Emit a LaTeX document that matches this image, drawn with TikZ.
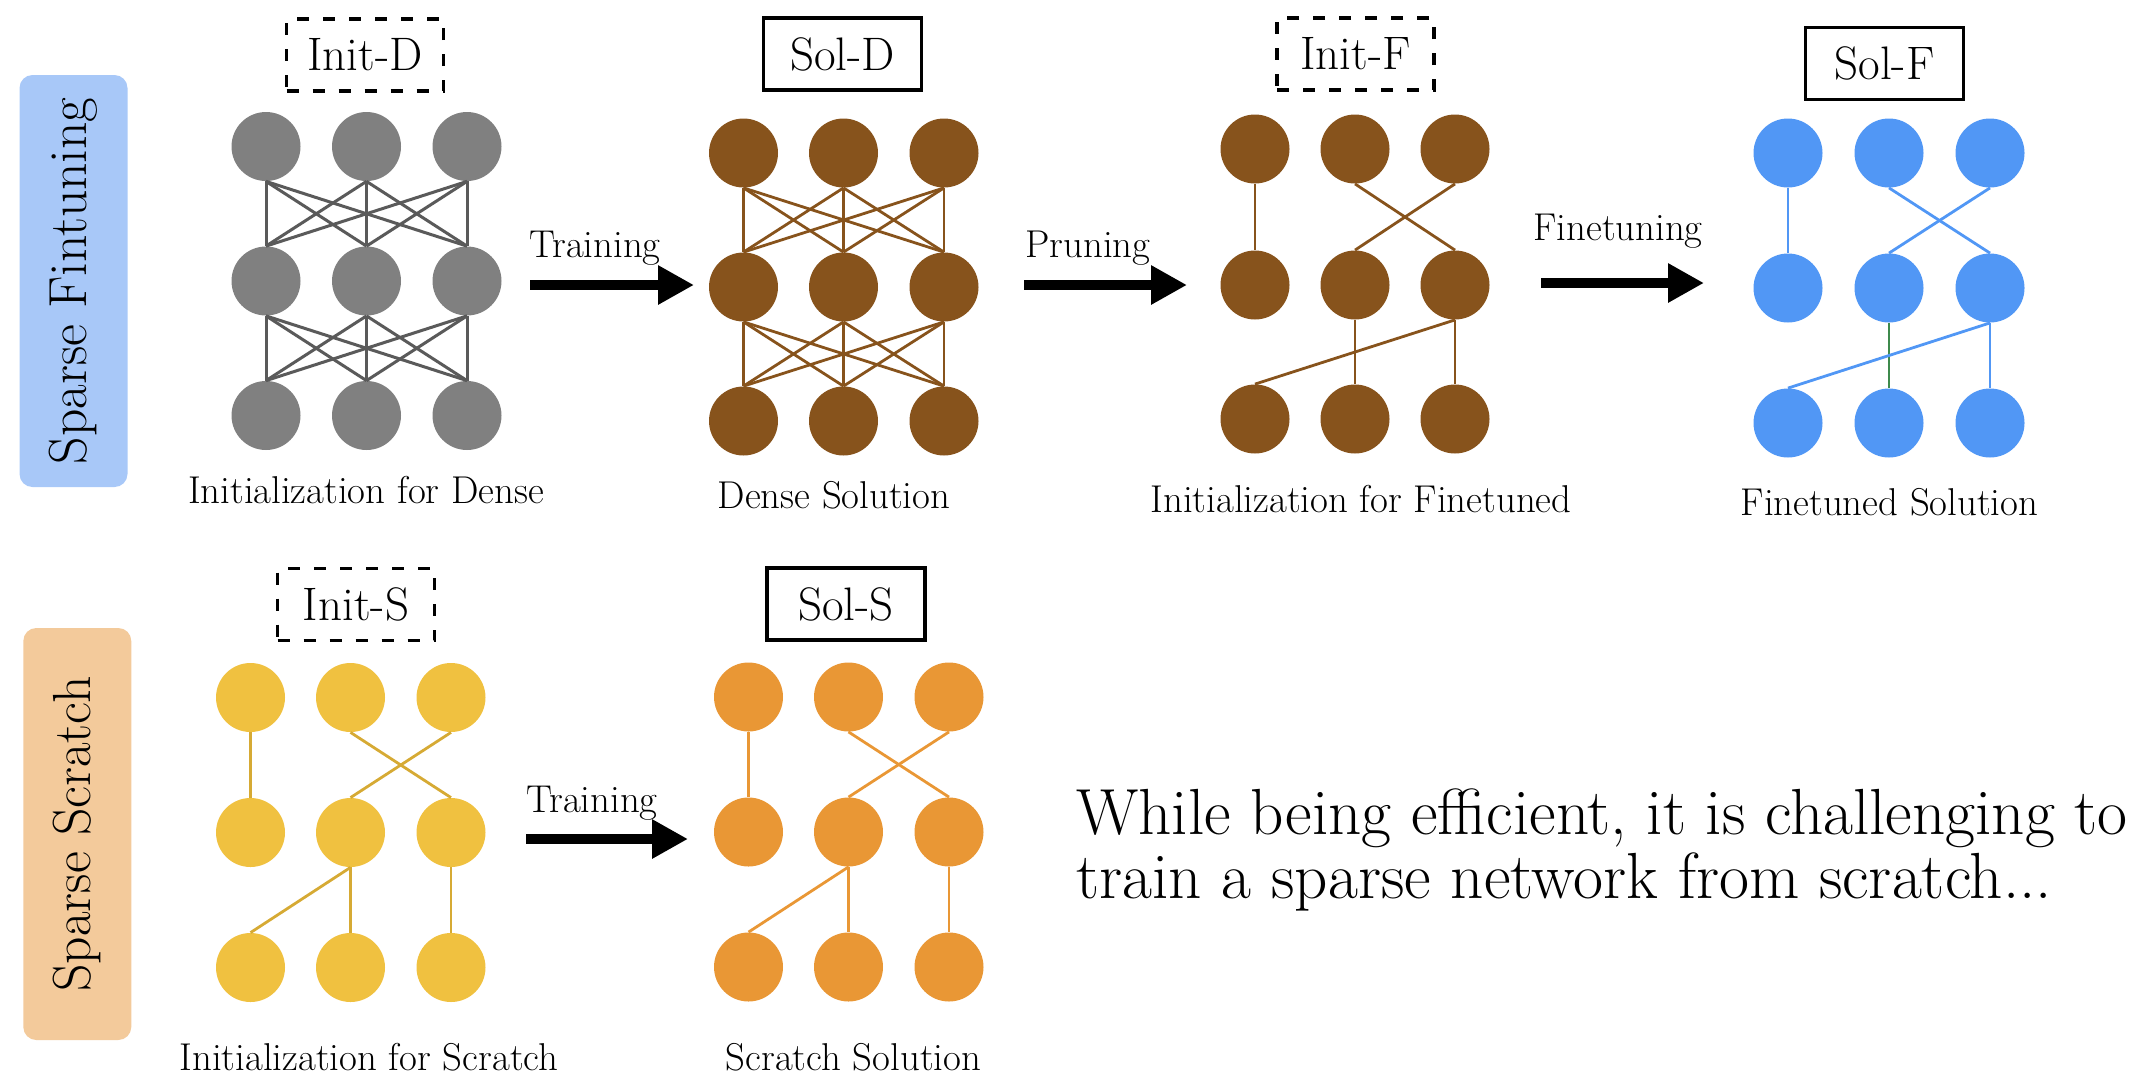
\documentclass[tikz,border=0pt]{standalone}
\usepackage{tikz}
\usetikzlibrary{arrows.meta,shapes}
\definecolor{nodegray}{RGB}{128,128,128}
\definecolor{edgegray}{RGB}{90,90,90}
\definecolor{dbrown}{RGB}{135,83,28}
\definecolor{fblue}{RGB}{81,151,245}
\definecolor{fgreen}{RGB}{62,138,76}
\definecolor{syellow}{RGB}{240,193,64}
\definecolor{syedge}{RGB}{214,170,52}
\definecolor{sorange}{RGB}{233,151,53}
\definecolor{tagblue}{RGB}{168,200,248}
\definecolor{tagpeach}{RGB}{243,202,155}
\newcommand{\labfont}{\fontsize{19.4pt}{23pt}\selectfont}
\newcommand{\boxfont}{\fontsize{23.5pt}{27pt}\selectfont}
\newcommand{\tagfont}{\fontsize{26.8pt}{31pt}\selectfont}
\newcommand{\bigfont}{\fontsize{32.6pt}{37pt}\selectfont}
\tikzstyle{vertex}=[circle,minimum size=34.5pt,inner sep=0pt]
\tikzstyle{gray vertex}=[vertex,fill=nodegray]
\tikzstyle{brown vertex}=[vertex,fill=dbrown]
\tikzstyle{blue vertex}=[vertex,fill=fblue]
\tikzstyle{yellow vertex}=[vertex,fill=syellow]
\tikzstyle{orange vertex}=[vertex,fill=sorange]
\tikzstyle{edge} = [draw,line width=1.4pt,-]
\tikzstyle{init box}=[draw,line width=1.8pt,dash pattern=on 6pt off 7pt,minimum width=78.5pt,minimum height=36pt,font=\boxfont]
\tikzstyle{sol box}=[draw,line width=1.7pt,minimum width=79pt,minimum height=36pt,font=\boxfont]
\tikzstyle{tag}=[rounded corners=6.5pt,minimum width=206pt,minimum height=54pt,rotate=90,font=\tagfont]
\tikzstyle{caption}=[font=\labfont,inner sep=0pt,anchor=base]
\tikzstyle{arrow label}=[font=\labfont,inner sep=0pt,anchor=base west]
\tikzstyle{big arrow}=[line width=5pt,-{Triangle[length=18pt,width=18.5pt]}]

\begin{document}
\begin{tikzpicture}[x=0.5pt,y=-0.5pt]
          \useasboundingbox (0,0) rectangle (2136,1088);
          % row tags
          \node[tag,fill=tagblue] (tagF) at (73.5,281) {Sparse Fintuning};
          \node[tag,fill=tagpeach] (tagS) at (77.3,834) {Sparse Scratch};
          % boxes
          \node[init box] (initD) at (365,55) {Init-D};
          \node[sol box] (solD) at (842.5,54) {Sol-D};
          \node[init box] (initF) at (1355.5,54) {Init-F};
          \node[sol box] (solF) at (1884.5,63.5) {Sol-F};
          \node[init box] (initS) at (356,604.5) {Init-S};
          \node[sol box] (solS) at (846,604) {Sol-S};
          % networks
          \foreach \c [count=\i] in {266,366.5,467}
            \foreach \r [count=\j] in {146.5,281,415.5}
              \node[gray vertex] (id\j\i) at (\c,\r) {};
          \foreach \c [count=\i] in {743.5,843.5,944}
            \foreach \r [count=\j] in {153,287,421}
              \node[brown vertex] (sd\j\i) at (\c,\r) {};
          \foreach \c [count=\i] in {1255,1355,1455}
            \foreach \r [count=\j] in {149,285,419}
              \node[brown vertex] (if\j\i) at (\c,\r) {};
          \foreach \c [count=\i] in {1788,1889,1990}
            \foreach \r [count=\j] in {153,288,423}
              \node[blue vertex] (sf\j\i) at (\c,\r) {};
          \foreach \c [count=\i] in {250.5,350.5,451}
            \foreach \r [count=\j] in {697.5,832.5,967.5}
              \node[yellow vertex] (is\j\i) at (\c,\r) {};
          \foreach \c [count=\i] in {748.5,848.5,949}
            \foreach \r [count=\j] in {697,832,967}
              \node[orange vertex] (ss\j\i) at (\c,\r) {};
          % dense edges
          \foreach \r/\s in {1/2,2/3}
            \foreach \i in {1,2,3}
              \foreach \j in {1,2,3} {
                \draw[edge,edgegray,line width=1.5pt] (id\r\i.south) to (id\s\j.north);
                \draw[edge,dbrown] (sd\r\i.south) to (sd\s\j.north);
              }
          % sparse edges
          \draw[edge,dbrown] (if11.south) to (if21.north);
          \draw[edge,dbrown] (if12.south) to (if23.north);
          \draw[edge,dbrown] (if13.south) to (if22.north);
          \draw[edge,dbrown] (if22.south) to (if32.north);
          \draw[edge,dbrown] (if23.south) to (if33.north);
          \draw[edge,dbrown] (if23.south) to (if31.north);
          \draw[edge,fblue] (sf11.south) to (sf21.north);
          \draw[edge,fblue] (sf12.south) to (sf23.north);
          \draw[edge,fblue] (sf13.south) to (sf22.north);
          \draw[edge,fgreen] (sf22.south) to (sf32.north);
          \draw[edge,fblue] (sf23.south) to (sf33.north);
          \draw[edge,fblue] (sf23.south) to (sf31.north);
          \draw[edge,syedge] (is11.south) to (is21.north);
          \draw[edge,syedge] (is12.south) to (is23.north);
          \draw[edge,syedge] (is13.south) to (is22.north);
          \draw[edge,syedge] (is22.south) to (is31.north);
          \draw[edge,syedge] (is22.south) to (is32.north);
          \draw[edge,syedge] (is23.south) to (is33.north);
          \draw[edge,sorange] (ss11.south) to (ss21.north);
          \draw[edge,sorange] (ss12.south) to (ss23.north);
          \draw[edge,sorange] (ss13.south) to (ss22.north);
          \draw[edge,sorange] (ss22.south) to (ss31.north);
          \draw[edge,sorange] (ss22.south) to (ss32.north);
          \draw[edge,sorange] (ss23.south) to (ss33.north);
          % captions
          \node[caption] (capID) at (366,503) {Initialization for Dense};
          \node[caption] (capSD) at (834,508) {Dense Solution};
          \node[caption] (capIF) at (1361,512) {Initialization for Finetuned};
          \node[caption] (capSF) at (1889.5,515) {Finetuned Solution};
          \node[caption] (capIS) at (369,1070) {Initialization for Scratch};
          \node[caption] (capSS) at (853.5,1070) {Scratch Solution};
          % arrows
          \coordinate (trainDa) at (530,285);
          \coordinate (trainDb) at (694,285);
          \coordinate (prunea) at (1024,285);
          \coordinate (pruneb) at (1187,285);
          \coordinate (finea) at (1541,283);
          \coordinate (fineb) at (1704,283);
          \coordinate (trainSa) at (526,839);
          \coordinate (trainSb) at (688,839);
          \draw[big arrow] (trainDa) -- (trainDb);
          \draw[big arrow] (prunea) -- (pruneb);
          \draw[big arrow] (finea) -- (fineb);
          \draw[big arrow] (trainSa) -- (trainSb);
          \node[arrow label] (trainD) at (529,257) {Training};
          \node[arrow label] (prune) at (1025,257) {Pruning};
          \node[arrow label] (fine) at (1533,240) {Finetuning};
          \node[arrow label] (trainS) at (526,812) {Training};
          % note
          \node[font=\bigfont,inner sep=0pt,anchor=base west] (note1) at (1076,834) {While being efficient, it is challenging to};
          \node[font=\bigfont,inner sep=0pt,anchor=base west] (note2) at (1076,898) {train a sparse network from scratch...};
        \end{tikzpicture}
\end{document}
